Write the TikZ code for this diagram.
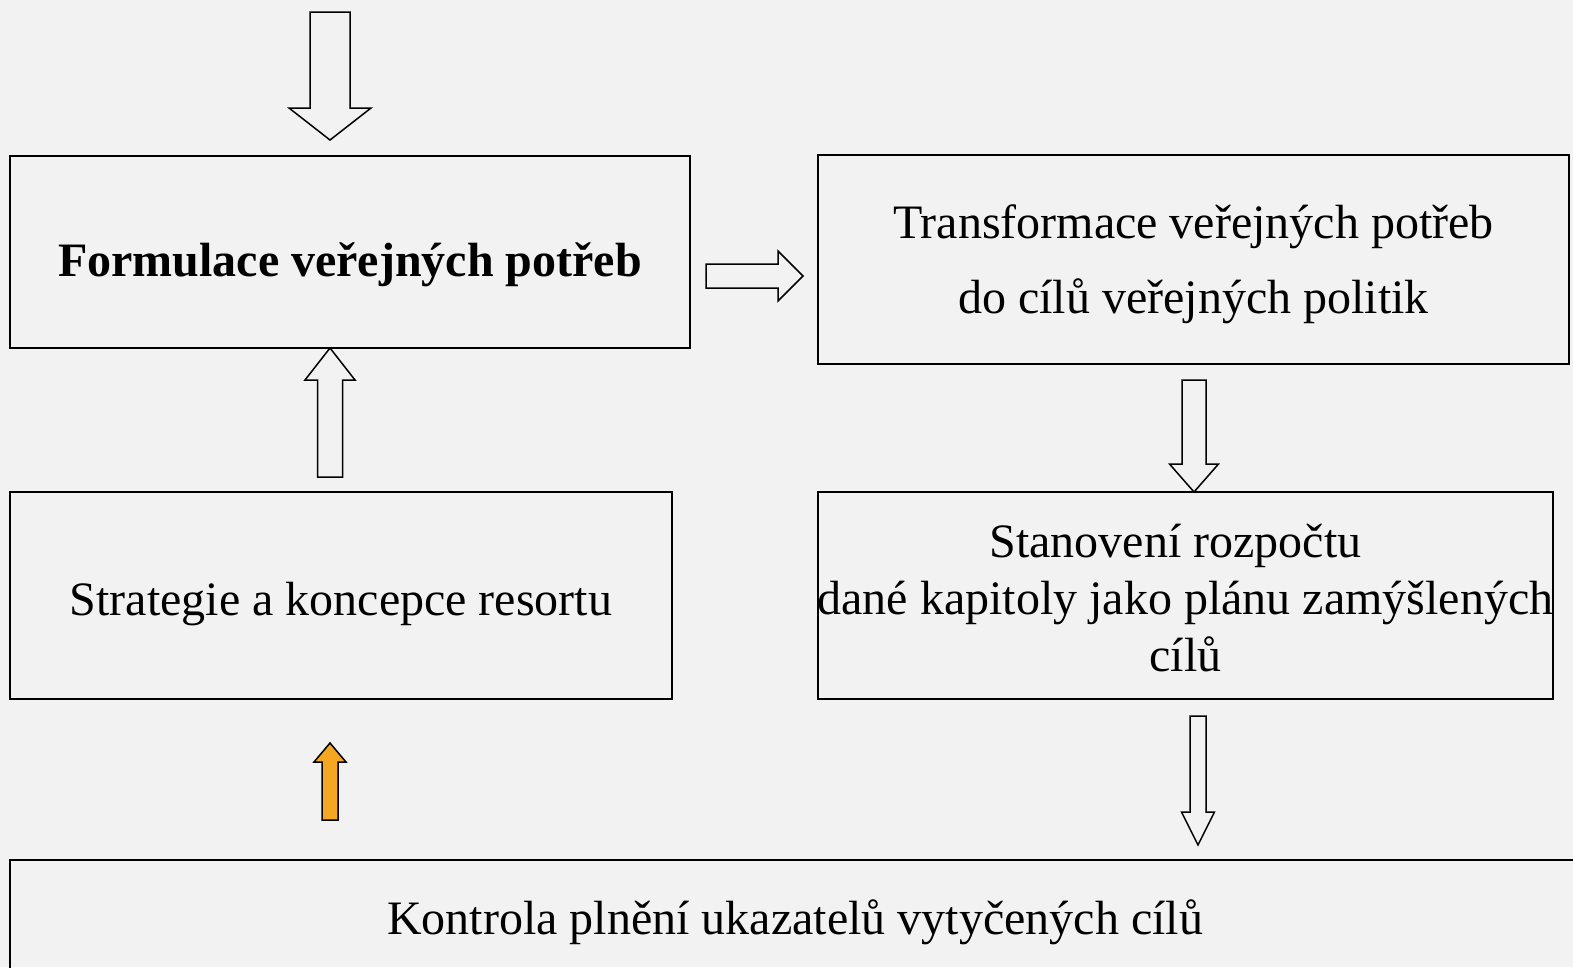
\documentclass[tikz,border=0pt]{standalone}
\usepackage{fontspec}
\setmainfont{Liberation Serif}
\usepackage{tikz}
\usetikzlibrary{calc}
\usepackage{xcolor}
\definecolor{bggray}{HTML}{F2F2F2}
\definecolor{arrorange}{HTML}{F5A623}

\newcommand{\blockarrow}[6][]{%
\coordinate (ba-h) at ($(#3)!#6!(#2)$);
\draw [barrow, #1] ($(#2)!#4!90:(#3)$) -- ($(ba-h)!#4!90:(#3)$) -- ($(ba-h)!#5!90:(#3)$) -- (#3)
  -- ($(ba-h)!#5!-90:(#3)$) -- ($(ba-h)!#4!-90:(#3)$) -- ($(#2)!#4!-90:(#3)$) -- cycle;}

\begin{document}
\begin{tikzpicture}[x=1pt, y=-1pt,
  pbox/.style={draw, line width=1.5pt, inner sep=0pt},
  ptext/.style={align=center, inner sep=0pt},
  barrow/.style={draw, line width=1.5pt},
  font=\fontsize{48}{57}\selectfont]
\path [use as bounding box, fill=bggray] (0,0) rectangle (1573,967);
\clip (0,0) rectangle (1573,967);

\node [pbox, minimum width=680pt, minimum height=192pt,
  label={[ptext, yshift=-13pt]center:\textbf{Formulace veřejných potřeb}}] (formul) at (350,252) {};
\node [pbox, minimum width=751pt, minimum height=209pt,
  label={[ptext, yshift=-5pt]center:Transformace veřejných potřeb\\[18pt]do cílů veřejných politik}] (transf) at (1193.5,259.5) {};
\node [pbox, minimum width=662pt, minimum height=207pt,
  label={[ptext, yshift=-9pt]center:Strategie a koncepce resortu}] (strat) at (341,595.5) {};
\node [pbox, minimum width=735pt, minimum height=207pt,
  label={[ptext, yshift=-3pt]center:Stanovení rozpočtu\hspace*{20pt}\\dané kapitoly jako plánu zamýšlených\\cílů}] (stanov) at (1185.5,595.5) {};
\node [pbox, minimum width=1570pt, minimum height=115pt,
  label={[ptext, yshift=-5pt]center:Kontrola plnění ukazatelů vytyčených cílů}] (kontr) at (795,917.5) {};

\coordinate (topIn) at (330,12);
\coordinate (topTip) at (330,140);
\coordinate (rightIn) at (706,276);
\coordinate (rightTip) at (803,276);
\coordinate (upIn) at (330,477);
\coordinate (upTip) at (330,348);
\coordinate (downIn) at (1194,380);
\coordinate (downTip) at (1194,492);
\coordinate (oraIn) at (330,820);
\coordinate (oraTip) at (330,743);
\coordinate (lowIn) at (1198,716);
\coordinate (lowTip) at (1198,845);

\blockarrow{topIn}{topTip}{20pt}{41pt}{32pt}
\blockarrow{rightIn}{rightTip}{12pt}{25pt}{25pt}
\blockarrow{upIn}{upTip}{12.5pt}{25pt}{32pt}
\blockarrow{downIn}{downTip}{12pt}{24.5pt}{28pt}
\blockarrow[fill=arrorange]{oraIn}{oraTip}{8pt}{16pt}{19pt}
\blockarrow{lowIn}{lowTip}{8pt}{16.5pt}{33pt}
\end{tikzpicture}
\end{document}
